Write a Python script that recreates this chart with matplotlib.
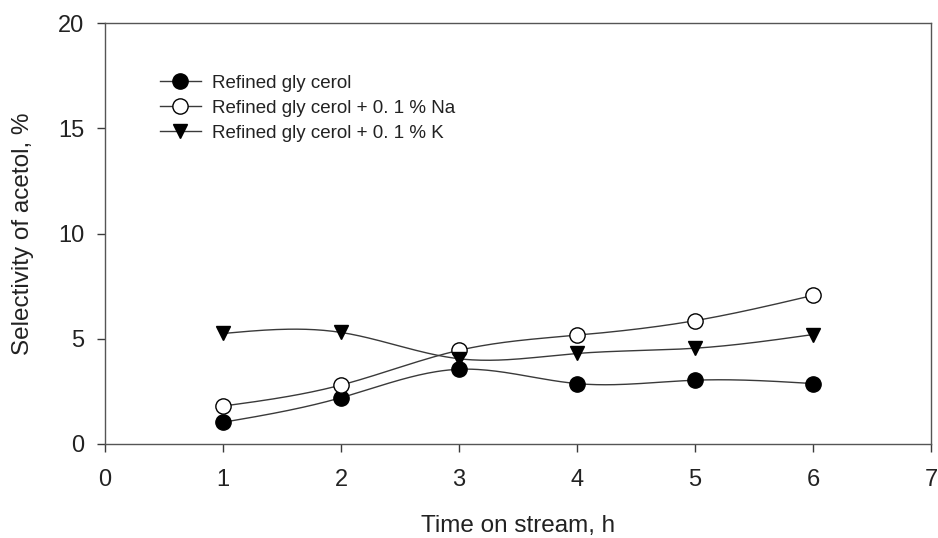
import numpy as np
import matplotlib.pyplot as plt

#--------------------------------
# Data
#--------------------------------
hours = [1, 2, 3, 4, 5, 6]
refined = [1.03, 2.2, 3.55, 2.87, 3.03, 2.87]
refined_na = [1.8, 2.8, 4.45, 5.17, 5.86, 7.06]
refined_k = [5.25, 5.3, 4.05, 4.3, 4.55, 5.2]

labels = ['Refined gly cerol',
          'Refined gly cerol + 0. 1 % Na',
          'Refined gly cerol + 0. 1 % K']

#--------------------------------
# Configuration
#--------------------------------
plt.rcParams['font.family'] = ['Liberation Sans', 'DejaVu Sans']
line_col = '#3a3a3a'


def natural_spline(x, y, n=200):
    # natural cubic spline through the points, used for the smooth line
    x = np.asarray(x, float)
    y = np.asarray(y, float)
    k = len(x)
    h = np.diff(x)
    A = np.zeros((k, k))
    b = np.zeros(k)
    A[0, 0] = A[-1, -1] = 1
    for i in range(1, k - 1):
        A[i, i - 1] = h[i - 1]
        A[i, i] = 2 * (h[i - 1] + h[i])
        A[i, i + 1] = h[i]
        b[i] = 6 * ((y[i + 1] - y[i]) / h[i] - (y[i] - y[i - 1]) / h[i - 1])
    M = np.linalg.solve(A, b)
    xs = np.linspace(x[0], x[-1], n)
    idx = np.clip(np.searchsorted(x, xs) - 1, 0, k - 2)
    x0, x1 = x[idx], x[idx + 1]
    hh = x1 - x0
    t0 = x1 - xs
    t1 = xs - x0
    ys = (M[idx] * t0**3 / (6 * hh) + M[idx + 1] * t1**3 / (6 * hh)
          + (y[idx] / hh - M[idx] * hh / 6) * t0
          + (y[idx + 1] / hh - M[idx + 1] * hh / 6) * t1)
    return xs, ys


fig = plt.figure(figsize=(9.38, 5.38), dpi=100)
ax = fig.add_axes([105 / 938, 1 - 444 / 538, 826 / 938, 421 / 538])

series = [
    (refined, dict(marker='o', mfc='black', mec='black', ms=11)),
    (refined_na, dict(marker='o', mfc='white', mec='black', ms=11)),
    (refined_k, dict(marker='v', mfc='black', mec='black', ms=10)),
]

for (vals, style), lab in zip(series, labels):
    xs, ys = natural_spline(hours, vals)
    ax.plot(xs, ys, color=line_col, lw=1.0, zorder=2)
    ax.plot(hours, vals, ls='none', mew=1.0, zorder=3, **style)
    # legend entry: line with the marker in the middle
    ax.plot([], [], color=line_col, lw=1.0, mew=1.0, label=lab, **style)

ax.set_xlim(0, 7)
ax.set_ylim(0, 20)
ax.set_xticks(range(0, 8))
ax.set_yticks([0, 5, 10, 15, 20])
ax.tick_params(axis='both', direction='out', length=6, width=1,
               labelsize=17, color=line_col, labelcolor='#222222')
ax.tick_params(axis='x', pad=12)
ax.tick_params(axis='y', pad=9)
ax.tick_params(top=False, right=False)
for edge, spine in ax.spines.items():
    spine.set_color('#555555')
    spine.set_linewidth(1.0)

ax.set_xlabel('Time on stream, h', fontsize=17.5, labelpad=17, color='#222222')
ax.set_ylabel('Selectivity of acetol, %', fontsize=17.5, labelpad=17,
              color='#222222')

ax.legend(loc='upper left', bbox_to_anchor=(0.066, 0.877), frameon=False,
          fontsize=13.5, handlelength=2.2, handletextpad=0.6,
          labelspacing=0.42, borderpad=0, borderaxespad=0,
          labelcolor='#222222')

plt.savefig('out.png', dpi=100)
